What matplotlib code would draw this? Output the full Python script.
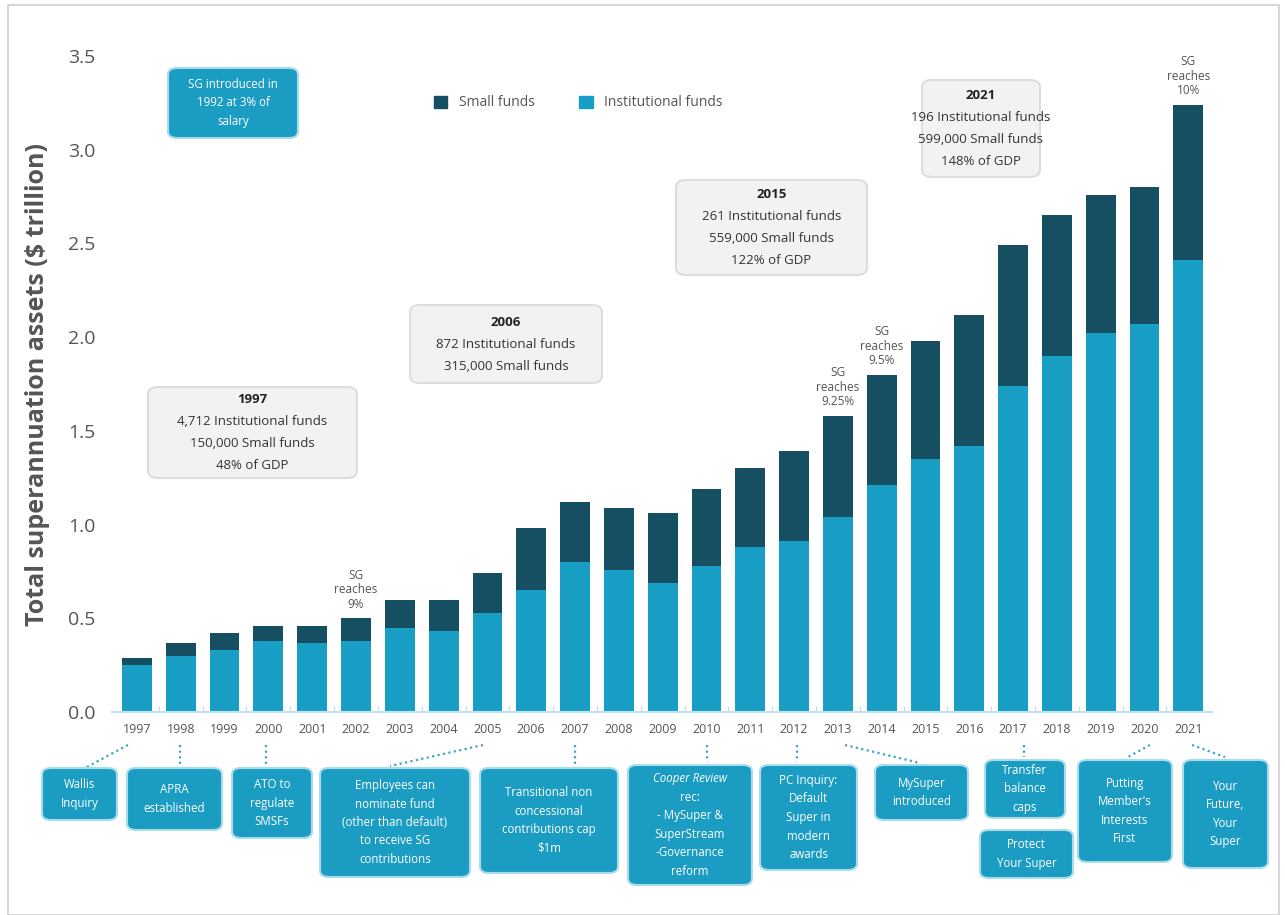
import numpy as np
import matplotlib.pyplot as plt
from matplotlib.patches import FancyBboxPatch, Rectangle, Patch

plt.rcParams['font.family'] = ['Open Sans', 'DejaVu Sans']

# data ($ trillion)
years = [str(y) for y in range(1997, 2022)]
institutional = [0.25, 0.30, 0.33, 0.38, 0.37, 0.38, 0.45, 0.43, 0.53, 0.65,
                 0.80, 0.76, 0.69, 0.78, 0.88, 0.91, 1.04, 1.21, 1.35, 1.42,
                 1.74, 1.90, 2.02, 2.07, 2.41]
total = [0.29, 0.37, 0.42, 0.46, 0.46, 0.50, 0.60, 0.60, 0.74, 0.98,
         1.12, 1.09, 1.06, 1.19, 1.30, 1.39, 1.58, 1.80, 1.98, 2.12,
         2.49, 2.65, 2.76, 2.80, 3.24]
small = [t - i for t, i in zip(total, institutional)]

sg_years = ['2002', '2013', '2014', '2021']
sg_labels = ['SG\nreaches\n9%', 'SG\nreaches\n9.25%', 'SG\nreaches\n9.5%', 'SG\nreaches\n10%']

C_INST = '#199fc5'
C_SMALL = '#174f62'
C_BOX = '#1a9cc3'
GREY = '#555555'

W, H = 1285, 915
fig = plt.figure(figsize=(W / 100, H / 100), dpi=100)


def fx(x):
    return x / W


def fy(y):
    return 1 - y / H


ax = fig.add_axes([fx(112), fy(712), fx(1212) - fx(112), fy(56) - fy(712)])
x = np.arange(len(years))
ax.bar(x, institutional, width=0.68, color=C_INST, label='Institutional funds', zorder=2)
ax.bar(x, small, bottom=institutional, width=0.68, color=C_SMALL, label='Small funds', zorder=2)

ax.set_xlim(-0.57, 24.54)
ax.set_ylim(0, 3.5)
ax.set_yticks(np.arange(0, 3.51, 0.5))
ax.set_yticklabels([f'{v:.1f}' for v in np.arange(0, 3.51, 0.5)], fontsize=14, color=GREY)
ax.set_xticks(x)
ax.set_xticklabels(years, fontsize=9, color=GREY)
ax.set_xticks(x[:-1] + 0.5, minor=True)
ax.tick_params(axis='x', which='major', length=0, pad=8)
ax.tick_params(axis='x', which='minor', length=4, color='#cccccc', direction='in')
ax.tick_params(axis='y', length=0, pad=12)
for s in ['top', 'right', 'left']:
    ax.spines[s].set_visible(False)
ax.spines['bottom'].set_color('#bfe3ee')
ax.spines['bottom'].set_linewidth(1.5)
ax.set_ylabel('Total superannuation assets ($ trillion)', fontsize=18, fontweight='bold',
              color=GREY)
ax.yaxis.set_label_coords(-0.056, 0.5)

# SG reaches labels above bars
for yr, lab in zip(sg_years, sg_labels):
    i = years.index(yr)
    ax.text(i, total[i] + 0.04, lab, ha='center', va='bottom', fontsize=8.5,
            color=GREY, linespacing=1.15, clip_on=False)

# legend
handles = [Patch(color=C_SMALL), Patch(color=C_INST)]
fig.legend(handles, ['Small funds', 'Institutional funds'], loc='center',
           bbox_to_anchor=(fx(578), fy(103)), ncol=2, frameon=False, fontsize=10,
           handlelength=1.0, handleheight=1.0, columnspacing=3.2, labelcolor=GREY)


def box(x0, y0, x1, y1, fc, ec, r=8):
    p = FancyBboxPatch((fx(x0), fy(y1)), fx(x1) - fx(x0), fy(y0) - fy(y1),
                       boxstyle=f'round,pad=0,rounding_size={r / W}',
                       transform=fig.transFigure, facecolor=fc, edgecolor=ec,
                       linewidth=1.5, zorder=5)
    fig.add_artist(p)


# grey milestone boxes
grey_boxes = [
    (148, 387, 357, 478, '1997', '4,712 Institutional funds\n150,000 Small funds\n48% of GDP'),
    (410, 305, 602, 383, '2006', '872 Institutional funds\n315,000 Small funds'),
    (676, 180, 867, 275, '2015', '261 Institutional funds\n559,000 Small funds\n122% of GDP'),
    (922, 80, 1040, 177, '2021', '196 Institutional funds\n599,000 Small funds\n148% of GDP'),
]
for x0, y0, x1, y1, head, body in grey_boxes:
    box(x0, y0, x1, y1, '#f2f2f2', '#dddddd', r=10)
    lines = [head] + body.split('\n')
    lh = 22
    yc = (y0 + y1) / 2
    for k, ln in enumerate(lines):
        yy = yc + (k - (len(lines) - 1) / 2) * lh
        fig.text(fx((x0 + x1) / 2), fy(yy), ln, ha='center', va='center',
                 fontsize=9.5, fontweight='bold' if k == 0 else 'normal',
                 color='#222222' if k == 0 else '#333333', zorder=6)

# blue policy boxes: (x0, y0, x1, y1, text, connector)
blue_boxes = [
    (168, 68, 298, 138, 'SG introduced in\n1992 at 3% of\nsalary', None),
    (42, 768, 117, 820, 'Wallis\nInquiry', ((128, 745), (85, 768))),
    (127, 768, 222, 830, 'APRA\nestablished', ((180, 745), (180, 765))),
    (232, 768, 312, 838, 'ATO to\nregulate\nSMSFs', ((266, 745), (266, 765))),
    (320, 768, 470, 877, 'Employees can\nnominate fund\n(other than default)\nto receive SG\ncontributions',
     ((483, 745), (390, 766))),
    (480, 768, 618, 873, 'Transitional non\nconcessional\ncontributions cap\n$1m', ((575, 745), (575, 765))),
    (628, 765, 752, 885, 'Cooper Review\nrec:\n- MySuper &\nSuperStream\n-Governance\nreform',
     ((707, 745), (707, 762))),
    (760, 765, 857, 870, 'PC Inquiry:\nDefault\nSuper in\nmodern\nawards', ((797, 745), (797, 762))),
    (875, 765, 968, 820, 'MySuper\nintroduced', ((845, 745), (920, 763))),
    (985, 760, 1065, 818, 'Transfer\nbalance\ncaps', ((1024, 745), (1024, 757))),
    (980, 830, 1073, 878, 'Protect\nYour Super', None),
    (1078, 760, 1172, 862, "Putting\nMember's\nInterests\nFirst", ((1150, 745), (1128, 757))),
    (1183, 760, 1268, 868, 'Your\nFuture,\nYour\nSuper', ((1192, 745), (1225, 757))),
]
for x0, y0, x1, y1, txt, conn in blue_boxes:
    box(x0, y0, x1, y1, C_BOX, '#a8dcea', r=9)
    lines = txt.split('\n')
    lh = 18.5
    yc = (y0 + y1) / 2
    for k, ln in enumerate(lines):
        yy = yc + (k - (len(lines) - 1) / 2) * lh
        style = 'italic' if ln == 'Cooper Review' else 'normal'
        fig.text(fx((x0 + x1) / 2), fy(yy), ln, ha='center', va='center',
                 fontsize=8.3, color='white', zorder=6, style=style)
    if conn is not None:
        (ax_, ay_), (bx_, by_) = conn
        fig.add_artist(plt.Line2D([fx(ax_), fx(bx_)], [fy(ay_), fy(by_)],
                                  transform=fig.transFigure, color='#3aa7c9',
                                  linestyle=(0, (1, 1.5)), linewidth=1.6, zorder=4))

# outer frame
fig.add_artist(Rectangle((fx(8), 0), fx(1279) - fx(8), fy(5), transform=fig.transFigure,
                         fill=False, edgecolor='#cfcfcf', linewidth=1.2))

fig.savefig('out.png', dpi=100)
